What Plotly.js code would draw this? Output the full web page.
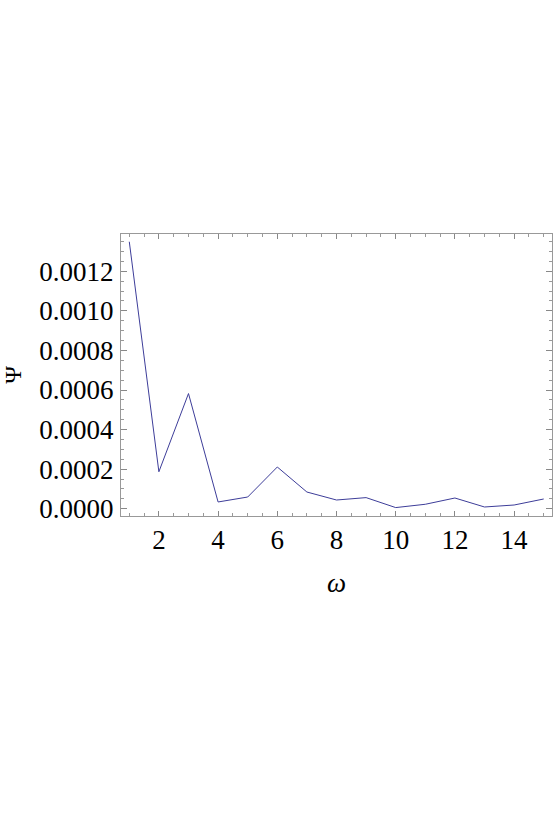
<!DOCTYPE html>
<html>
<head>
<meta charset="utf-8">
<script src="https://cdn.plot.ly/plotly-3.0.1.min.js"></script>
<style>
  html, body { margin: 0; padding: 0; background: #fff; }
  #plot { width: 554px; height: 830px; }
</style>
</head>
<body>
<div id="plot"></div>
<script>
var omega = [1, 2, 3, 4, 5, 6, 7, 8, 9, 10, 11, 12, 13, 14, 15];
var psi = [0.001349, 0.000187, 0.000582, 0.0000343, 0.0000594, 0.000211, 0.0000846,
           0.0000443, 0.0000564, 0.000006, 0.0000227, 0.0000544, 0.000009, 0.000019, 0.0000494];

var xTicks = [2, 4, 6, 8, 10, 12, 14];
var yTicks = [0, 0.0002, 0.0004, 0.0006, 0.0008, 0.0010, 0.0012];

var trace = {
  x: omega,
  y: psi,
  mode: 'lines',
  type: 'scatter',
  line: {color: '#3d3d99', width: 1},
  hoverinfo: 'x+y'
};

var serif = 'Liberation Serif';
var tickFont = {family: serif, size: 27, color: '#000'};

var layout = {
  width: 554,
  height: 830,
  margin: {l: 121, r: 1.5, t: 234, b: 313.5},
  paper_bgcolor: '#fff',
  plot_bgcolor: '#fff',
  font: {family: serif},
  showlegend: false,
  xaxis: {
    range: [0.72, 15.28],
    tickvals: xTicks,
    ticktext: xTicks.map(String),
    ticks: 'inside',
    ticklen: 5,
    tickwidth: 1,
    tickcolor: '#888',
    minor: {dtick: 0.5, tick0: 0, ticks: 'inside', ticklen: 3, tickcolor: '#999', showgrid: false},
    showline: true,
    linecolor: '#999',
    linewidth: 1,
    mirror: 'ticks',
    showgrid: false,
    zeroline: false,
    tickfont: tickFont,
    ticklabelstandoff: 0,
    title: {text: '<i>ω</i>', font: tickFont, standoff: 18}
  },
  yaxis: {
    range: [-0.0000365, 0.001388],
    tickvals: yTicks,
    tickformat: '.4f',
    ticks: 'inside',
    ticklen: 6,
    tickwidth: 1,
    tickcolor: '#888',
    minor: {dtick: 0.00005, tick0: 0, ticks: 'inside', ticklen: 3, tickcolor: '#999', showgrid: false},
    showline: true,
    linecolor: '#999',
    linewidth: 1,
    mirror: 'ticks',
    showgrid: false,
    zeroline: false,
    tickfont: tickFont,
    ticklabelstandoff: 1,
    title: {text: 'Ψ', font: {family: serif, size: 24, color: '#000'}, standoff: 12}
  }
};

Plotly.newPlot('plot', [trace], layout, {displayModeBar: false, staticPlot: true});
</script>
</body>
</html>
